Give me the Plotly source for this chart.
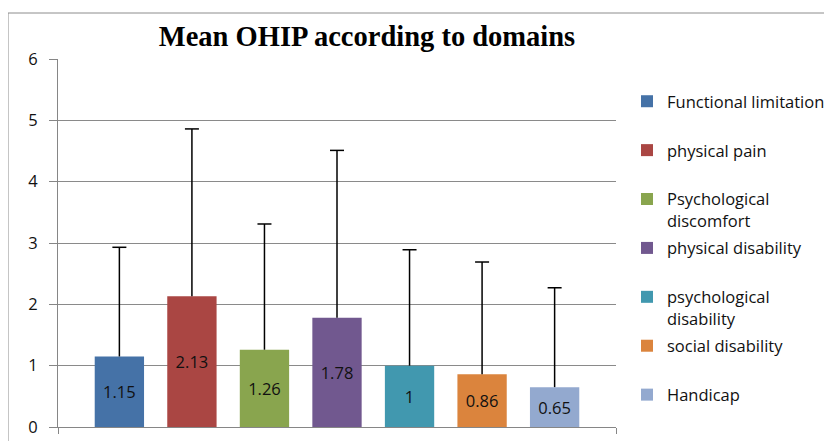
import plotly.graph_objects as go

domains = ["Functional limitation", "physical pain", "Psychological<br>discomfort",
           "physical disability", "psychological<br>disability", "social disability", "Handicap"]
means = [1.15, 2.13, 1.26, 1.78, 1.00, 0.86, 0.65]
sds = [1.78, 2.73, 2.05, 2.73, 1.89, 1.83, 1.62]
colors = ["#4572A7", "#AA4643", "#89A54E", "#71588F", "#4198AF", "#DB843D", "#93A9CF"]
category = ["OHIP"]
y_ticks = [0, 1, 2, 3, 4, 5, 6]

FONT = "Open Sans"
TXT = "#111111"
OFF = 8  # default page margin of the html body
W, H = 832 - OFF, 441 - OFF
# target plot area in screen pixels: x 58..616, y 59..427
ML, MT = 58 - OFF, 59 - OFF
MR = W - (616 - OFF)
MB = H - (427 - OFF)
PW, PH = W - ML - MR, H - MT - MB


def px_to_paper_x(px):
    return (px - OFF - ML) / PW


def px_to_paper_y(py):
    return (H - MB - (py - OFF)) / PH


fig = go.Figure()
for name, m, s, c in zip(domains, means, sds, colors):
    label = name if "<br>" in name else name + "<br> "
    fig.add_trace(go.Bar(
        x=category, y=[m], name=label, marker=dict(color=c, line=dict(width=0)),
        legendgroup=name,
        text=[f"{m:g}"], textposition="inside", insidetextanchor="middle",
        textangle=0,
        textfont=dict(family=FONT, size=16.5, color=TXT),
        error_y=dict(type="data", array=[s], arrayminus=[0], symmetric=False,
                     color="black", thickness=1.5, width=0),
        hoverinfo="skip",
    ))
for name, m, s in zip(domains, means, sds):
    fig.add_trace(go.Scatter(
        x=category, y=[m + s], mode="markers", showlegend=False,
        marker=dict(symbol="line-ew", size=10, line=dict(color="black", width=1.5)),
        hoverinfo="skip",
    ))

fig.update_layout(
    width=W, height=H,
    margin=dict(l=ML, r=MR, t=MT, b=MB, autoexpand=False),
    paper_bgcolor="white", plot_bgcolor="white",
    barmode="group", bargap=0.09, bargroupgap=0.32,
    scattermode="group", scattergap=0.09,
    title=dict(text="<b>Mean OHIP according to domains</b>",
               font=dict(family="Liberation Serif", size=28.5, color="black"),
               x=px_to_paper_x(367), xref="paper", xanchor="center",
               y=1 - (36 - OFF) / H, yref="container", yanchor="middle"),
    font=dict(family=FONT, size=15, color=TXT),
    legend=dict(x=px_to_paper_x(627), y=px_to_paper_y(84), xanchor="left", yanchor="top",
                xref="paper", yref="paper",
                font=dict(family=FONT, size=16.5, color=TXT),
                valign="top", tracegroupgap=3, bgcolor="rgba(0,0,0,0)"),
    xaxis=dict(type="category", showticklabels=False, showgrid=False,
               showline=True, linecolor="#868686", linewidth=1,
               ticks="outside", tickson="boundaries", ticklen=6, tickcolor="#868686",
               zeroline=False, fixedrange=True),
    yaxis=dict(range=[0, 6], tickvals=y_ticks, showgrid=True, gridcolor="#8a8a8a", gridwidth=1,
               showline=True, linecolor="#868686", linewidth=1,
               ticks="outside", ticklen=8, tickcolor="#868686",
               ticklabelstandoff=8,
               tickfont=dict(family=FONT, size=16.5, color=TXT),
               zeroline=False, fixedrange=True),
    shapes=[dict(type="rect", xref="paper", yref="paper",
                 x0=px_to_paper_x(8), x1=px_to_paper_x(845),
                 y0=px_to_paper_y(460), y1=px_to_paper_y(13),
                 line=dict(color="#8c8c8c", width=1), fillcolor="rgba(0,0,0,0)",
                 layer="below")],
)

fig.write_html("out.html")
